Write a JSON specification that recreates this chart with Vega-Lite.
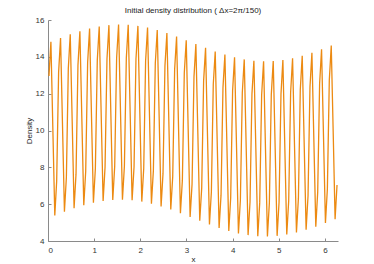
{
  "$schema": "https://vega.github.io/schema/vega-lite/v6.json",
  "autosize": "none",
  "width": 290,
  "height": 221,
  "padding": {"left": 48, "top": 20, "right": 36, "bottom": 23},
  "background": "white",
  "config": {
    "font": "Liberation Sans",
    "view": {"stroke": null},
    "axis": {
      "grid": false,
      "domainColor": "#8a8a8a",
      "domainWidth": 1,
      "tickColor": "#8a8a8a",
      "tickSize": -3,
      "labelFontSize": 8,
      "labelColor": "#333333",
      "titleFontSize": 8,
      "titleFontWeight": "normal",
      "titleColor": "#222222",
      "labelFont": "Liberation Sans",
      "titleFont": "Liberation Sans"
    },
    "title": {"fontSize": 8, "fontWeight": "normal", "color": "#222222", "font": "Liberation Sans", "offset": 1}
  },
  "title": "Initial density distribution ( Δx=2π/150)",
  "data": {
    "values": [
      {"x":0.021,"y":12.96},{"x":0.063,"y":14.82},{"x":0.105,"y":10.10},{"x":0.147,"y":5.39},{"x":0.188,"y":7.25},
      {"x":0.230,"y":13.17},{"x":0.272,"y":15.02},{"x":0.314,"y":10.31},{"x":0.356,"y":5.59},{"x":0.398,"y":7.45},
      {"x":0.440,"y":13.36},{"x":0.482,"y":15.22},{"x":0.524,"y":10.50},{"x":0.565,"y":5.78},{"x":0.607,"y":7.63},
      {"x":0.649,"y":13.54},{"x":0.691,"y":15.39},{"x":0.733,"y":10.67},{"x":0.775,"y":5.94},{"x":0.817,"y":7.79},
      {"x":0.859,"y":13.70},{"x":0.901,"y":15.54},{"x":0.942,"y":10.81},{"x":0.984,"y":6.08},{"x":1.026,"y":7.92},
      {"x":1.068,"y":13.82},{"x":1.110,"y":15.65},{"x":1.152,"y":10.91},{"x":1.194,"y":6.17},{"x":1.236,"y":8.01},
      {"x":1.278,"y":13.90},{"x":1.320,"y":15.72},{"x":1.361,"y":10.98},{"x":1.403,"y":6.23},{"x":1.445,"y":8.05},
      {"x":1.487,"y":13.94},{"x":1.529,"y":15.75},{"x":1.571,"y":11.00},{"x":1.613,"y":6.24},{"x":1.655,"y":8.06},
      {"x":1.697,"y":13.93},{"x":1.738,"y":15.74},{"x":1.780,"y":10.98},{"x":1.822,"y":6.21},{"x":1.864,"y":8.02},
      {"x":1.906,"y":13.88},{"x":1.948,"y":15.68},{"x":1.990,"y":10.91},{"x":2.032,"y":6.14},{"x":2.074,"y":7.94},
      {"x":2.115,"y":13.79},{"x":2.157,"y":15.59},{"x":2.199,"y":10.81},{"x":2.241,"y":6.03},{"x":2.283,"y":7.82},
      {"x":2.325,"y":13.67},{"x":2.367,"y":15.45},{"x":2.409,"y":10.67},{"x":2.450,"y":5.88},{"x":2.492,"y":7.67},
      {"x":2.534,"y":13.51},{"x":2.576,"y":15.29},{"x":2.618,"y":10.50},{"x":2.660,"y":5.71},{"x":2.702,"y":7.49},
      {"x":2.744,"y":13.33},{"x":2.786,"y":15.10},{"x":2.827,"y":10.31},{"x":2.869,"y":5.51},{"x":2.911,"y":7.29},
      {"x":2.953,"y":13.13},{"x":2.995,"y":14.90},{"x":3.037,"y":10.10},{"x":3.079,"y":5.31},{"x":3.121,"y":7.08},
      {"x":3.163,"y":12.92},{"x":3.204,"y":14.69},{"x":3.246,"y":9.90},{"x":3.288,"y":5.10},{"x":3.330,"y":6.87},
      {"x":3.372,"y":12.71},{"x":3.414,"y":14.49},{"x":3.456,"y":9.69},{"x":3.498,"y":4.90},{"x":3.540,"y":6.67},
      {"x":3.581,"y":12.51},{"x":3.623,"y":14.29},{"x":3.665,"y":9.50},{"x":3.707,"y":4.71},{"x":3.749,"y":6.49},
      {"x":3.791,"y":12.33},{"x":3.833,"y":14.12},{"x":3.875,"y":9.33},{"x":3.917,"y":4.55},{"x":3.958,"y":6.33},
      {"x":4.000,"y":12.18},{"x":4.042,"y":13.97},{"x":4.084,"y":9.19},{"x":4.126,"y":4.41},{"x":4.168,"y":6.21},
      {"x":4.210,"y":12.06},{"x":4.252,"y":13.86},{"x":4.294,"y":9.09},{"x":4.335,"y":4.32},{"x":4.377,"y":6.12},
      {"x":4.419,"y":11.98},{"x":4.461,"y":13.79},{"x":4.503,"y":9.02},{"x":4.545,"y":4.26},{"x":4.587,"y":6.07},
      {"x":4.629,"y":11.94},{"x":4.671,"y":13.76},{"x":4.712,"y":9.00},{"x":4.754,"y":4.25},{"x":4.796,"y":6.06},
      {"x":4.838,"y":11.95},{"x":4.880,"y":13.77},{"x":4.922,"y":9.02},{"x":4.964,"y":4.28},{"x":5.006,"y":6.10},
      {"x":5.048,"y":11.99},{"x":5.089,"y":13.83},{"x":5.131,"y":9.09},{"x":5.173,"y":4.35},{"x":5.215,"y":6.18},
      {"x":5.257,"y":12.08},{"x":5.299,"y":13.92},{"x":5.341,"y":9.19},{"x":5.383,"y":4.46},{"x":5.425,"y":6.30},
      {"x":5.466,"y":12.21},{"x":5.508,"y":14.06},{"x":5.550,"y":9.33},{"x":5.592,"y":4.61},{"x":5.634,"y":6.46},
      {"x":5.676,"y":12.37},{"x":5.718,"y":14.22},{"x":5.760,"y":9.50},{"x":5.802,"y":4.78},{"x":5.843,"y":6.64},
      {"x":5.885,"y":12.55},{"x":5.927,"y":14.41},{"x":5.969,"y":9.69},{"x":6.011,"y":4.98},{"x":6.053,"y":6.83},
      {"x":6.095,"y":12.75},{"x":6.137,"y":14.61},{"x":6.179,"y":9.90},{"x":6.220,"y":5.18},{"x":6.262,"y":7.04}
    ]
  },
  "mark": {"type": "line", "color": "#EC8A12", "strokeWidth": 1.3, "interpolate": "linear"},
  "encoding": {
    "x": {
      "field": "x", "type": "quantitative",
      "scale": {"domain": [0, 6.2832], "nice": false, "zero": false},
      "axis": {"title": "x", "values": [0, 1, 2, 3, 4, 5, 6], "format": "d", "labelPadding": 8, "titlePadding": 1}
    },
    "y": {
      "field": "y", "type": "quantitative",
      "scale": {"domain": [4, 16], "nice": false, "zero": false},
      "axis": {"title": "Density", "values": [4, 6, 8, 10, 12, 14, 16], "labelPadding": 7, "titlePadding": 2}
    }
  }
}
